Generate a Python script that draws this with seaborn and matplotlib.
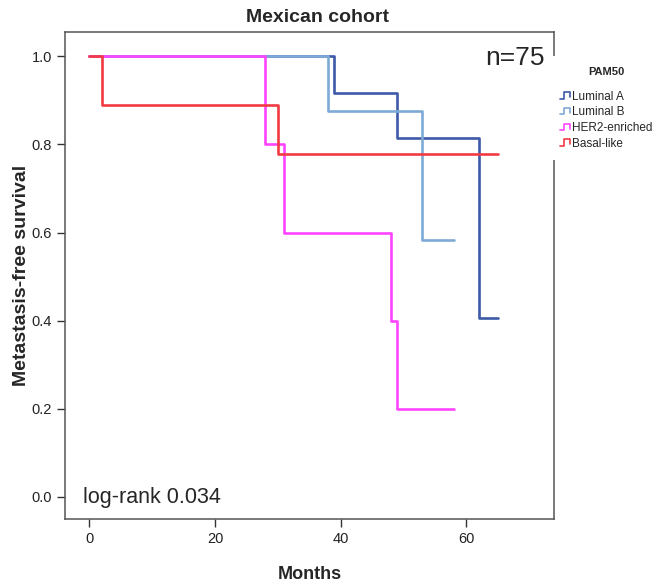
import numpy as np
import pandas as pd
import seaborn as sns
import matplotlib
matplotlib.use("Agg")
import matplotlib.pyplot as plt
from matplotlib.lines import Line2D
from matplotlib.legend_handler import HandlerBase

# ---- data ----
groups = ["Luminal A", "Luminal B", "HER2-enriched", "Basal-like"]
lumA_t = [0, 39, 49, 62, 65]
lumA_s = [1.0, 0.917, 0.815, 0.407, 0.407]
lumB_t = [0, 38, 53, 58]
lumB_s = [1.0, 0.875, 0.583, 0.583]
her2_t = [0, 28, 31, 48, 49, 58]
her2_s = [1.0, 0.8, 0.6, 0.4, 0.2, 0.2]
basal_t = [0, 2, 30, 65]
basal_s = [1.0, 0.889, 0.778, 0.778]
colors = ["#3D59A8", "#7EAAD6", "#FF44FF", "#F23A44"]
x_ticks = [0, 20, 40, 60]
y_ticks = [0.0, 0.2, 0.4, 0.6, 0.8, 1.0]

frames = []
for g, t, s in zip(groups, [lumA_t, lumB_t, her2_t, basal_t],
                   [lumA_s, lumB_s, her2_s, basal_s]):
    frames.append(pd.DataFrame({"Months": t, "Survival": s, "PAM50": g}))
df = pd.concat(frames, ignore_index=True)

sns.set_style("ticks")
plt.rcParams["font.family"] = ["Liberation Sans", "DejaVu Sans"]

fig = plt.figure(figsize=(6.59, 5.83), dpi=100)
ax = fig.add_axes([65 / 659, 1 - 519 / 583, 489 / 659, 487 / 583])

sns.lineplot(data=df, x="Months", y="Survival", hue="PAM50", hue_order=groups,
             palette=colors, estimator=None, sort=True, drawstyle="steps-post",
             linewidth=1.9, legend=False, ax=ax)

ax.set_xlim(-3.9, 74)
ax.set_ylim(-0.05, 1.055)
ax.set_xticks(x_ticks)
ax.set_yticks(y_ticks)
ax.set_yticklabels([f"{v:.1f}" for v in y_ticks])
ax.tick_params(axis="both", direction="out", length=6, width=1, colors="#333333",
               labelsize=10.5, labelcolor="#222222")
for sp in ax.spines.values():
    sp.set_visible(True)
    sp.set_color("#555555")
    sp.set_linewidth(1.1)

ax.set_xlabel("Months", fontsize=13, fontweight="bold", labelpad=14)
ax.set_ylabel("Metastasis-free survival", fontsize=14, fontweight="bold", labelpad=1)
ax.set_title("Mexican cohort", fontsize=14, fontweight="bold", pad=7, x=0.517)

ax.text(0.98, 0.947, "n=75", transform=ax.transAxes, ha="right", va="center",
        fontsize=19)
ax.text(0.037, 0.045, "log-rank 0.034", transform=ax.transAxes, ha="left",
        va="center", fontsize=15.5)


class StepHandler(HandlerBase):
    def create_artists(self, legend, orig_handle, xdescent, ydescent, width,
                       height, fontsize, trans):
        x0 = -xdescent
        y0 = -ydescent
        xs = [x0, x0 + 0.35 * width, x0 + 0.35 * width, x0 + 0.85 * width,
              x0 + 0.85 * width]
        ys = [y0 + 0.1 * height, y0 + 0.1 * height, y0 + 0.9 * height,
              y0 + 0.9 * height, y0 + 0.3 * height]
        ln = Line2D(xs, ys, color=orig_handle.get_color(), lw=1.2)
        ln.set_transform(trans)
        return [ln]


handles = [Line2D([], [], color=c) for c in colors]
leg = ax.legend(handles, groups, title="PAM50", loc="upper left",
                bbox_to_anchor=(549 / 659, 1 - 56 / 583),
                bbox_transform=fig.transFigure, frameon=True, fontsize=8.5,
                title_fontproperties={"weight": "bold", "size": 8},
                handler_map={Line2D: StepHandler()}, handlelength=1.0,
                handletextpad=0.05, labelspacing=0.32, borderpad=0.9,
                borderaxespad=0)
leg._legend_box.sep = 10
leg.get_frame().set_facecolor("white")
leg.get_frame().set_edgecolor("none")
leg.get_frame().set_alpha(1)
leg.set_zorder(10)

fig.savefig("out.png", dpi=100)
